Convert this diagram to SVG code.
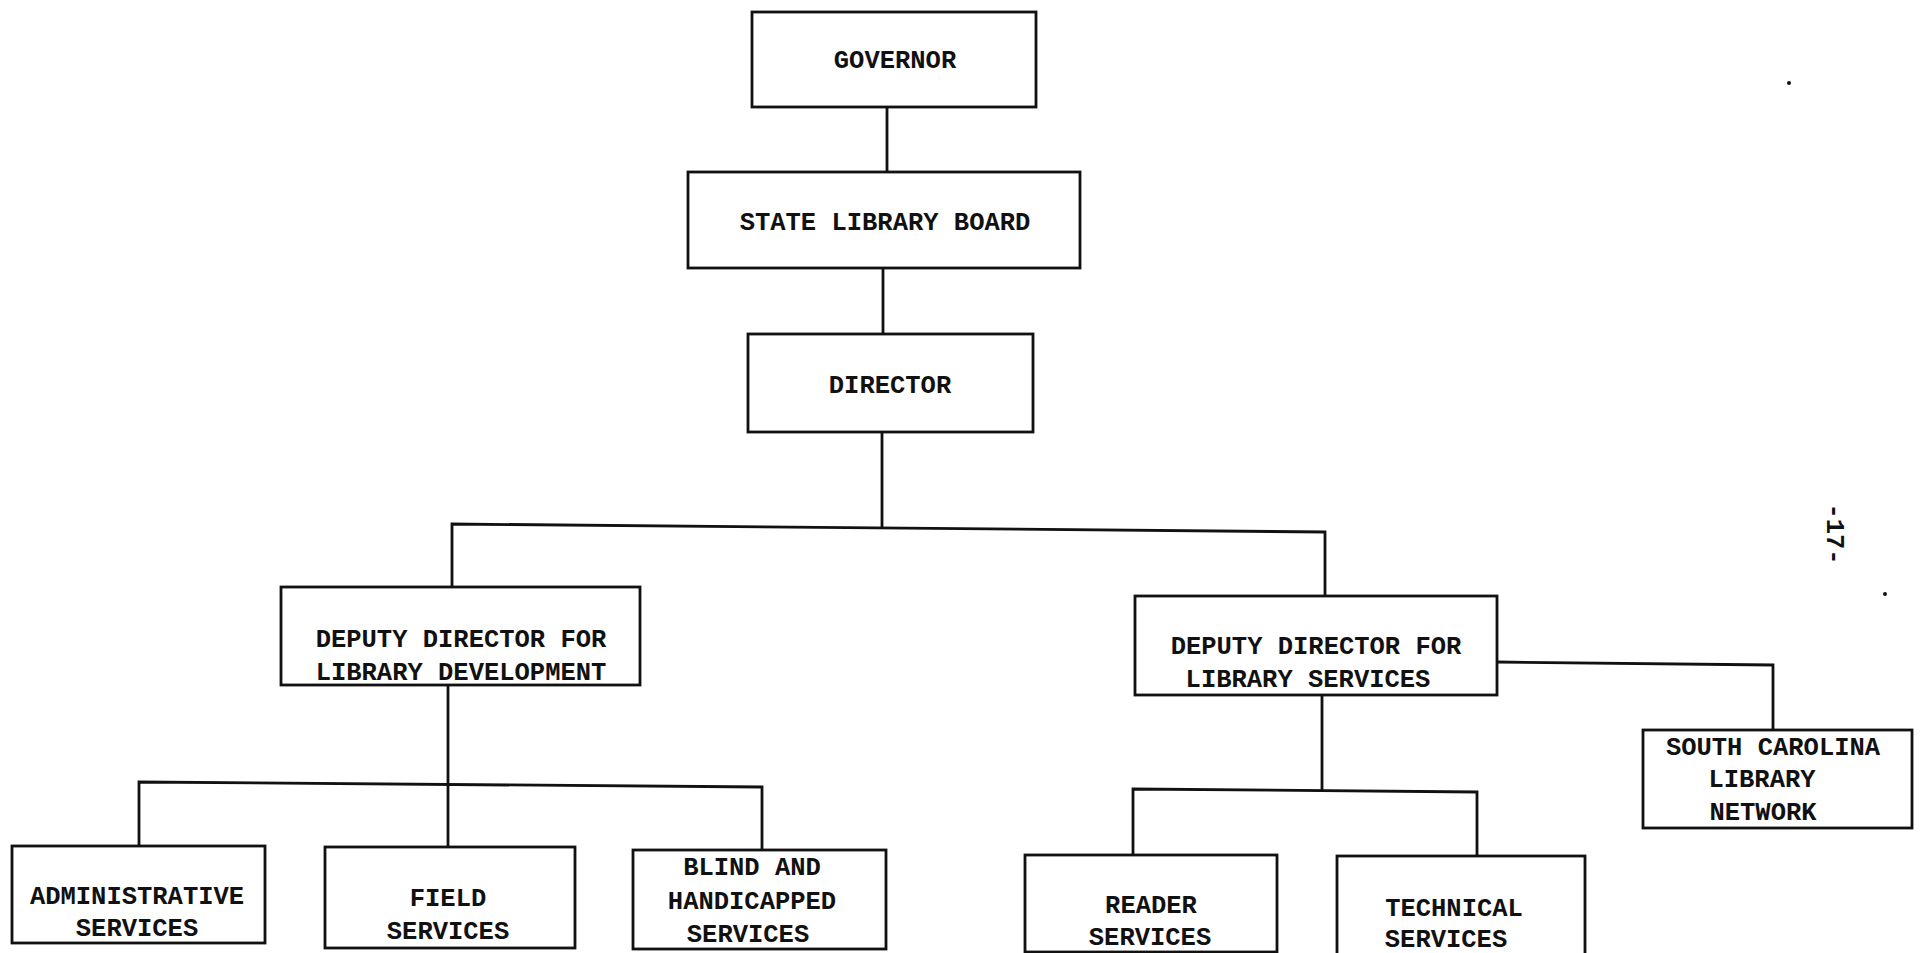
<svg xmlns="http://www.w3.org/2000/svg" width="1925" height="953" viewBox="0 0 1925 953">
<style>
.box{fill:#fff;stroke:#111;stroke-width:2.8}
.ln{fill:none;stroke:#111;stroke-width:2.8}
text{font-family:"Liberation Mono","DejaVu Sans Mono",monospace;font-weight:bold;font-size:25.5px;fill:#111;text-anchor:middle}
</style>
<rect width="1925" height="953" fill="#fff"/>
<g id="connectors">
<polyline class="ln" points="887,107 887,172"/>
<polyline class="ln" points="883,268 883,334"/>
<polyline class="ln" points="882,432 882,528"/>
<polyline class="ln" points="452,587 452,524 1325,532 1325,596"/>
<polyline class="ln" points="1497,662 1773,665 1773,730"/>
<polyline class="ln" points="448,685 448,847"/>
<polyline class="ln" points="139,846 139,782 762,787 762,851"/>
<polyline class="ln" points="1322,695 1322,791"/>
<polyline class="ln" points="1133,855 1133,789 1477,792 1477,856"/>
</g>
<g id="governor"><rect class="box" x="752" y="12" width="284" height="95"/><text x="895" y="68">GOVERNOR</text></g>
<g id="board"><rect class="box" x="688" y="172" width="392" height="96"/><text x="885" y="230">STATE LIBRARY BOARD</text></g>
<g id="director"><rect class="box" x="748" y="334" width="285" height="98"/><text x="890" y="393">DIRECTOR</text></g>
<g id="dd-development"><rect class="box" x="281" y="587" width="359" height="98"/><text x="461" y="647">DEPUTY DIRECTOR FOR</text><text x="461" y="680">LIBRARY DEVELOPMENT</text></g>
<g id="dd-services"><rect class="box" x="1135" y="596" width="362" height="99"/><text x="1316" y="654">DEPUTY DIRECTOR FOR</text><text x="1308" y="687">LIBRARY SERVICES</text></g>
<g id="sc-network"><rect class="box" x="1643" y="730" width="269" height="98"/><text x="1773" y="755">SOUTH CAROLINA</text><text x="1762" y="787">LIBRARY</text><text x="1763" y="820">NETWORK</text></g>
<g id="administrative"><rect class="box" x="12" y="846" width="253" height="97"/><text x="137" y="904">ADMINISTRATIVE</text><text x="137" y="936">SERVICES</text></g>
<g id="field"><rect class="box" x="325" y="847" width="250" height="101"/><text x="448" y="906">FIELD</text><text x="448" y="939">SERVICES</text></g>
<g id="blind"><rect class="box" x="633" y="850" width="253" height="99"/><text x="752" y="875">BLIND AND</text><text x="752" y="909">HANDICAPPED</text><text x="748" y="942">SERVICES</text></g>
<g id="reader"><rect class="box" x="1025" y="855" width="252" height="97"/><text x="1151" y="913">READER</text><text x="1150" y="945">SERVICES</text></g>
<g id="technical"><rect class="box" x="1337" y="856" width="248" height="100"/><text x="1454" y="916">TECHNICAL</text><text x="1446" y="947">SERVICES</text></g>
<g id="page"><text transform="translate(1827,534) rotate(90)" x="0" y="0">-17-</text>
<circle cx="1789" cy="83" r="2" fill="#111"/><circle cx="1885" cy="594" r="2" fill="#111"/></g>
</svg>
